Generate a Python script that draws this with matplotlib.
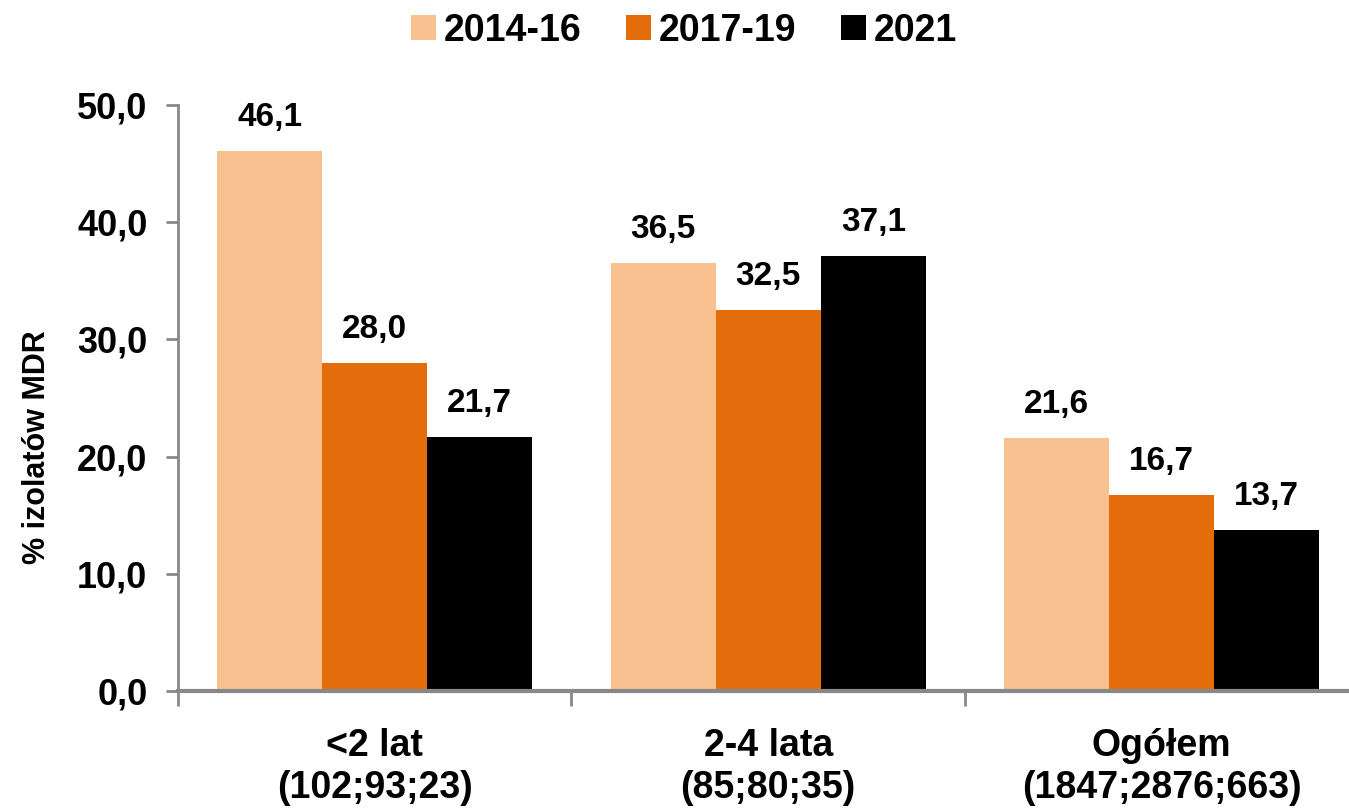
import matplotlib
matplotlib.use("Agg")
import matplotlib.pyplot as plt
import numpy as np

# dane
grupy = ['<2 lat\n(102;93;23)', '2-4 lata\n(85;80;35)', 'Ogółem\n(1847;2876;663)']
serie = ['2014-16', '2017-19', '2021']
wartosci_1416 = [46.1, 36.5, 21.6]
wartosci_1719 = [28.0, 32.5, 16.7]
wartosci_2021 = [21.7, 37.1, 13.7]
kolory = ['#F9C190', '#E46C0A', '#000000']
y_ticki = [0, 10, 20, 30, 40, 50]

plt.rcParams['font.family'] = ['Liberation Sans', 'DejaVu Sans']
plt.rcParams['font.weight'] = 'bold'

fig = plt.figure(figsize=(13.49, 8.10), dpi=100)
ax = fig.add_axes([178/1349, 119/810, 1171/1349, 586/810])

x = np.arange(len(grupy))
w = 0.267
dane = [wartosci_1416, wartosci_1719, wartosci_2021]
for i, (nazwa, vals) in enumerate(zip(serie, dane)):
    bars = ax.bar(x + (i - 1) * w, vals, w, color=kolory[i], label=nazwa, zorder=2)
    for b, v in zip(bars, vals):
        ax.annotate(f'{v:.1f}'.replace('.', ','), (b.get_x() + b.get_width()/2, v),
                    xytext=(0, 18), textcoords='offset points',
                    ha='center', va='baseline', fontsize=24, fontweight='bold')

ax.set_ylim(0, 50)
ax.set_xlim(-0.5, 2.476)
ax.set_yticks(y_ticki)
ax.set_yticklabels([f'{t:.1f}'.replace('.', ',') for t in y_ticki], fontsize=26,
                   fontweight='bold')

# kreski na granicach kategorii, etykiety w srodku
ax.set_xticks([-0.5, 0.5, 1.5])
ax.set_xticklabels([])
ax.set_xticks(x, minor=True)
ax.set_xticklabels(grupy, minor=True, fontsize=27, fontweight='bold', linespacing=1.2)
ax.tick_params(axis='x', which='minor', length=0, pad=27)
ax.tick_params(axis='x', which='major', length=11, width=2, color='#888888', direction='out')
ax.tick_params(axis='y', length=9, width=2, color='#888888', pad=13)

for s in ['top', 'right']:
    ax.spines[s].set_visible(False)
ax.spines['left'].set_color('#888888')
ax.spines['left'].set_linewidth(2)
ax.spines['bottom'].set_color('#888888')
ax.spines['bottom'].set_linewidth(3)
ax.spines['bottom'].set_zorder(3)

ax.set_ylabel('% izolatów MDR', fontsize=22, fontweight='bold')
ax.yaxis.set_label_coords(-0.108, 0.416)

fig.legend(loc='center', bbox_to_anchor=(0.507, 0.962), ncol=3, frameon=False,
           handlelength=0.67, handleheight=0.67, handletextpad=0.2,
           columnspacing=1.2, prop={'weight': 'bold', 'size': 27})

fig.savefig('out.png', dpi=100)
